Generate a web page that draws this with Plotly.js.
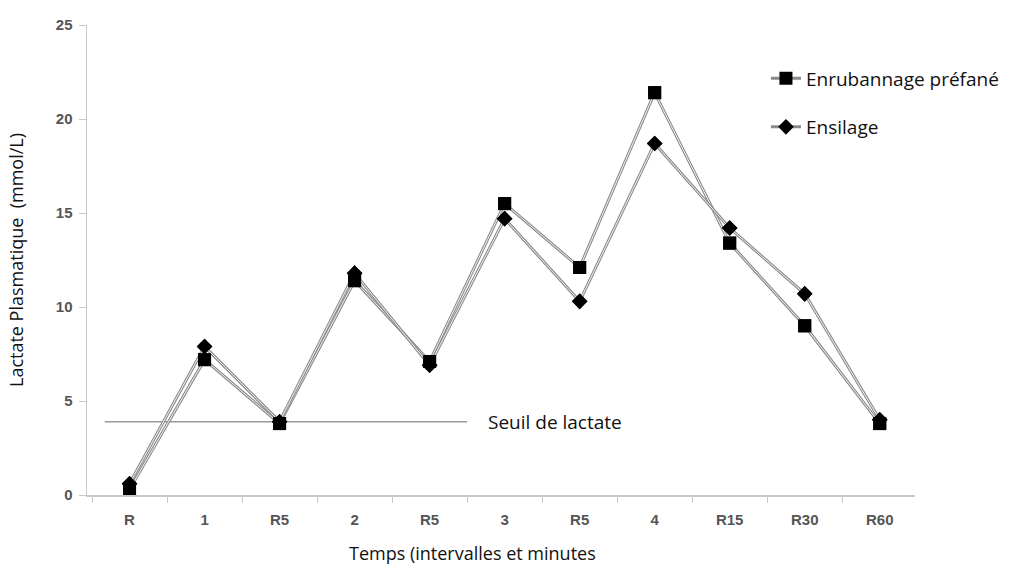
<!DOCTYPE html>
<html><head><meta charset="utf-8">
<script src="https://cdn.plot.ly/plotly-3.0.1.min.js"></script>
<style>body{margin:0;background:#fff}#c{width:1010px;height:570px}</style>
</head><body><div id="c"></div>
<script>
const categories = ["R","1","R5","2","R5","3","R5","4","R15","R30","R60"];
const enrubannage = [0.3, 7.2, 3.8, 11.4, 7.1, 15.5, 12.1, 21.4, 13.4, 9.0, 3.8];
const ensilage = [0.6, 7.9, 3.9, 11.8, 6.9, 14.7, 10.3, 18.7, 14.2, 10.7, 4.0];
const seuil = 3.9;
const seuilSpan = [-0.33, 4.5];

const idx = categories.map((c,i)=>i);
const grey = '#8a8a8a';
function series(name, y, symbol, size, group){
  return [
    {x: idx, y: y, name: name, legendgroup: group, mode: 'lines+markers', type: 'scatter',
     line: {color: grey, width: 3}, marker: {symbol: symbol, size: size, color: '#000'}},
    {x: idx, y: y, legendgroup: group, showlegend: false, mode: 'lines', type: 'scatter',
     line: {color: '#fff', width: 0.9}, hoverinfo: 'skip'},
  ];
}
function marks(y, symbol, size, group){
  return {x: idx, y: y, legendgroup: group, showlegend: false, mode: 'markers', type: 'scatter',
    marker: {symbol: symbol, size: size, color: '#000'}};
}
const data = [
  {x: seuilSpan, y: [seuil, seuil], mode: 'lines', type: 'scatter', showlegend: false,
   line: {color: '#999', width: 1.5}},
  ...series('Enrubannage préfané', enrubannage, 'square', 13, 'a'),
  ...series('Ensilage', ensilage, 'diamond', 12, 'b'),
  marks(enrubannage, 'square', 13, 'a'),
  marks(ensilage, 'diamond', 12, 'b')
];
const txt = {family: 'Open Sans', color: '#111'};
const layout = {
  width: 1010, height: 570,
  margin: {l: 87, r: 95, t: 25, b: 75, autoexpand: false},
  paper_bgcolor: '#fff', plot_bgcolor: '#fff',
  showlegend: true,
  legend: {x: 0.82, y: 0.927, xanchor: 'left', yanchor: 'top', tracegroupgap: 21,
    font: Object.assign({size: 19}, txt), itemwidth: 30, bgcolor: 'rgba(0,0,0,0)'},
  xaxis: {range: [-0.567, 10.47], tickvals: idx, ticktext: categories, ticks: '', showgrid: false,
    zeroline: false, showline: true, linecolor: '#c8c8c8', linewidth: 1.5, ticklabelstandoff: 10,
    tickfont: {family: 'Liberation Sans', size: 15, color: '#555', weight: 'bold'},
    minor: {tick0: 0.5, dtick: 1, ticks: 'outside', ticklen: 6, tickcolor: '#c8c8c8', showgrid: false},
    fixedrange: true, automargin: false},
  yaxis: {range: [0, 25], tickvals: [0,5,10,15,20,25], ticks: 'outside', ticklen: 7, tickcolor: '#c8c8c8',
    showgrid: false, zeroline: false, showline: true, linecolor: '#c8c8c8', linewidth: 1.5, ticklabelstandoff: 3,
    tickfont: {family: 'Liberation Sans', size: 15, color: '#555', weight: 'bold'}, automargin: false,
    title: {text: 'Lactate Plasmatique  (mmol/L)', font: Object.assign({size: 18}, txt), standoff: 27}},
  annotations: [
    {x: 4.75, y: seuil, xref: 'x', yref: 'y', text: 'Seuil de lactate', showarrow: false, xanchor: 'left',
     font: Object.assign({size: 19}, txt)},
    {x: (472-87)/828, y: -(553-495)/470, xref: 'paper', yref: 'paper', yanchor: 'middle',
     text: 'Temps (intervalles et minutes', showarrow: false, font: Object.assign({size: 18}, txt)}
  ]
};
Plotly.newPlot('c', data, layout, {displayModeBar: false, staticPlot: true});
</script></body></html>
